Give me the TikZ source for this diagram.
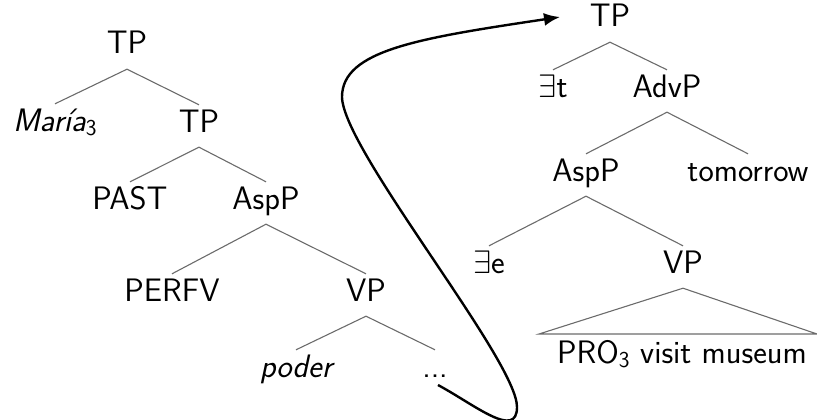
\documentclass[tikz,border=0pt]{standalone}
\DeclareFontShape{OMS}{cmsy}{m}{n}{<->cmsy10}{}
\usetikzlibrary{arrows.meta}
\begin{document}
\begin{tikzpicture}[x=1pt,y=-1pt,
  lab/.style={anchor=base, inner xsep=0pt, inner ysep=5pt, text height=22pt, text depth=10pt,
    font=\sffamily\fontsize{32.5}{38}\selectfont, text=black},
  branch/.style={draw=black!58, line width=1.1pt},
  mv/.style={draw=black, line width=2.4pt, -{Latex[length=16pt,width=13pt]}}]
\useasboundingbox (0,0) rectangle (817,420);
% left tree
\node[lab] (L1) at (127,54) {TP};
\node[lab] (L2) at (55,131) {\itshape María\textsubscript{\upshape 3}};
\node[lab] (L3) at (199,132) {TP};
\node[lab] (L4) at (130,209) {PAST};
\node[lab] (L5) at (266,209) {AspP};
\node[lab] (L6) at (172,301) {PERFV};
\node[lab] (L7) at (366,301) {VP};
\node[lab] (L8) at (296,377) {\itshape poder};
\node[lab] (L9) at (435,377) {...};
\draw[branch] (L2.north) -- (L1.south) -- (L3.north);
\draw[branch] (L4.north) -- (L3.south) -- (L5.north);
\draw[branch] (L6.north) -- (L5.south) -- (L7.north);
\draw[branch] (L8.north) -- (L7.south) -- (L9.north);
% right tree
\node[lab] (R1) at (610,27) {TP};
\node[lab] (R2) at (553,97) {$\exists$t};
\node[lab] (R3) at (667,97) {AdvP};
\node[lab] (R4) at (586,181) {AspP};
\node[lab] (R5) at (748,181) {tomorrow};
\node[lab] (R6) at (489,273) {$\exists$e};
\node[lab] (R7) at (683,273) {VP};
\node[lab] (R8) at (682,363) {PRO\textsubscript{3} visit museum};
\draw[branch] (R2.north) -- (R1.south) -- (R3.north);
\draw[branch] (R4.north) -- (R3.south) -- (R5.north);
\draw[branch] (R6.north) -- (R4.south) -- (R7.north);
\coordinate (TL) at (539,334);
\coordinate (TR) at (817,334);
\draw[branch] (R7.south) -- (TL) -- (TR) -- cycle;
% movement arrow
\coordinate (AS) at (438,385);
\coordinate (AE) at (560,17);
\draw[mv] (AS) .. controls (475,405) and (517,440) .. (517,407)
  .. controls (517,360) and (343,150) .. (342,97)
  .. controls (342,50) and (420,38) .. (AE);
\end{tikzpicture}
\end{document}
